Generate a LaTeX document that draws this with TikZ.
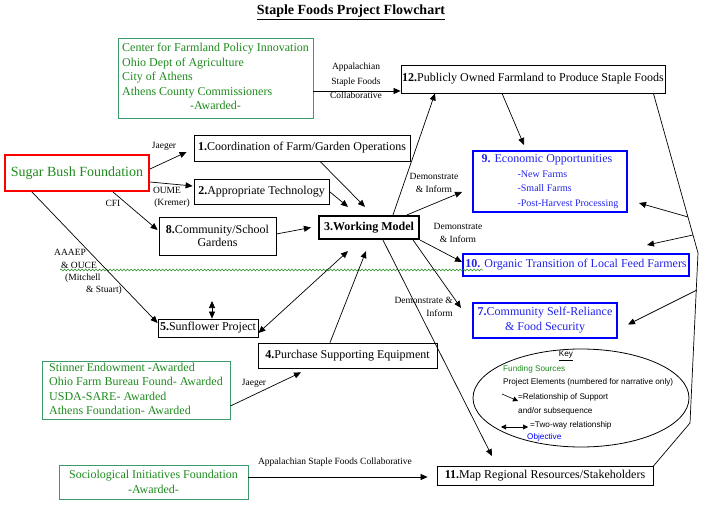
\documentclass[tikz,border=0pt]{standalone}
\usepackage{fontspec}
\setmainfont{Liberation Serif}
\newfontfamily\keyfont{Liberation Sans}
\usetikzlibrary{arrows.meta,shapes.geometric,decorations.pathmorphing}
\definecolor{fgreen}{HTML}{1E8A1E}
\definecolor{bgreen}{HTML}{3A9A68}
\definecolor{oblue}{HTML}{0000FF}
\definecolor{tblue}{HTML}{2222EE}
\newcommand\myfs[2]{\fontsize{#1}{#2}\selectfont}
\begin{document}
\begin{tikzpicture}[x=1pt,y=-1pt,
  arr/.style={line width=0.7pt,-{Triangle[length=7pt,width=6pt]}},
  darr/.style={line width=0.7pt,{Triangle[length=7pt,width=6pt]}-{Triangle[length=7pt,width=6pt]}},
  karr/.style={line width=0.6pt,-{Triangle[length=5pt,width=5pt]}},
  kdarr/.style={line width=0.6pt,{Triangle[length=5pt,width=5pt]}-{Triangle[length=5pt,width=5pt]}},
  box/.style={draw,line width=0.8pt,inner sep=0pt,font=\myfs{12}{14},align=center},
  fund/.style={draw=bgreen,line width=0.8pt,inner sep=0pt,text=fgreen,font=\myfs{12}{14.5}},
  obj/.style={draw=oblue,line width=2pt,inner sep=0pt,text=tblue,font=\myfs{12}{15},align=center},
  lbl/.style={inner sep=0pt,font=\myfs{9.5}{13},align=center},
  ktxt/.style={inner sep=0pt,anchor=west,font=\keyfont\myfs{8.2}{9.5}}]
\useasboundingbox (0,0) rectangle (704,505);

% title
\node[inner sep=0pt,font=\myfs{14}{16}\bfseries] (title) at (351,12) {\underline{Staple Foods Project Flowchart}};

% funding sources
\node[fund,minimum width=195,minimum height=80] (fundA) at (215.5,78)
  {\begin{tabular}{@{}l@{}}Center for Farmland Policy Innovation\\Ohio Dept of Agriculture\\City of Athens\\Athens County Commissioners\\\multicolumn{1}{@{}c@{}}{-Awarded-}\end{tabular}};
\node[draw=red,line width=2pt,inner sep=0pt,text=fgreen,font=\myfs{14}{16},minimum width=144,minimum height=36] (sb) at (77,173) {Sugar Bush Foundation};
\node[fund,minimum width=188,minimum height=58] (fundB) at (136,390)
  {\begin{tabular}{@{}l@{}}Stinner Endowment -Awarded\\Ohio Farm Bureau Found- Awarded\\USDA-SARE- Awarded\\Athens Foundation- Awarded\end{tabular}};
\node[fund,align=center,minimum width=189,minimum height=34] (soc) at (153.5,482)
  {Sociological Initiatives Foundation\\-Awarded-};

% project elements
\node[box,minimum width=264,minimum height=28] (b12) at (533,79) {\textbf{12.}Publicly Owned Farmland to Produce Staple Foods};
\node[box,minimum width=216,minimum height=26] (b1) at (302,148) {\textbf{1.}Coordination of Farm/Garden Operations};
\node[box,minimum width=135,minimum height=25] (b2) at (261.5,191.5) {\textbf{2.}Appropriate Technology};
\node[box,font=\myfs{12}{13.5},minimum width=117,minimum height=38] (b8) at (217.5,236) {\textbf{8.}Community/School\\Gardens};
\node[box,line width=2.2pt,font=\myfs{12}{14}\bfseries,minimum width=100,minimum height=23] (b3) at (369,227.5) {3.Working Model};
\node[box,minimum width=100,minimum height=18] (b5) at (208,328) {\textbf{5.}Sunflower Project};
\node[box,minimum width=179,minimum height=25] (b4) at (347.5,355.5) {\textbf{4.}Purchase Supporting Equipment};
\node[box,minimum width=216,minimum height=19] (b11) at (545,476) {\textbf{11.}Map Regional Resources/Stakeholders};

% objectives
\node[obj,minimum width=154,minimum height=61] (b9) at (550,181.5)
  {\begin{tabular}{@{}l@{}}\textbf{9.} Economic Opportunities\\[0pt]
   {\myfs{10}{13}\hspace*{36pt}-New Farms}\\[-0.5pt]
   {\myfs{10}{13}\hspace*{36pt}-Small Farms}\\[-0.5pt]
   {\myfs{10}{13}\hspace*{36pt}-Post-Harvest Processing}\end{tabular}};
\node[obj,minimum width=226,minimum height=22] (b10) at (576,265) {\textbf{10.} Organic Transition of Local Feed Farmers};
\node[obj,minimum width=144,minimum height=35] (b7) at (545,320.5) {\textbf{7.}Community Self-Reliance\\\& Food Security};

% green wavy underline
\coordinate (w1) at (60,270);
\coordinate (w2) at (483,270);
\draw[fgreen,line width=0.5pt,decorate,decoration={snake,amplitude=1pt,segment length=3.5pt}] (w1) -- (w2);

% connectors from funding sources
\draw[arr] ([yshift=-13pt]fundA.east) -- ([yshift=-12pt]b12.west);
\node[lbl,font=\myfs{9.5}{14.5}] (lapp) at (356,81) {Appalachian\\Staple Foods\\Collaborative};
\draw[arr] ([yshift=4pt]sb.east) -- ([shift={(-7pt,-4pt)}]b1.west);
\node[lbl] (lj1) at (164,146) {Jaeger};
\draw[arr] ([yshift=-9pt]sb.east) -- ([shift={(-1pt,5.5pt)}]b2.west);
\node[lbl] (loume) at (167,190) {OUME};
\node[lbl] (lkremer) at (172,203) {(Kremer)};
\draw[arr] ([xshift=36pt]sb.south) -- ([shift={(-1pt,6pt)}]b8.west);
\node[lbl] (lcfi) at (113,203) {CFI};
\draw[arr] ([xshift=-45pt]sb.south) -- ([yshift=5pt]b5.west);
\node[lbl,font=\myfs{9.5}{12.3},align=left,anchor=north west] (laaaep) at (54,249.5)
  {AAAEP\\\hspace*{7pt}\& OUCE\\\hspace*{11pt}(Mitchell\\\hspace*{32pt}\& Stuart)};
\draw[arr] ([yshift=-16pt]fundB.east) -- ([shift={(-46.5pt,-4pt)}]b4.south);
\node[lbl] (lj2) at (254,383) {Jaeger};
\draw[arr] ([yshift=5pt]soc.east) -- ([shift={(-9pt,-1pt)}]b11.west);
\node[lbl] (lsoc) at (335,462) {Appalachian Staple Foods Collaborative};

% into working model
\draw[arr] ([xshift=18pt]b1.south) -- ([shift={(-4pt,8pt)}]b3.north);
\draw[arr] (b2.east) -- ([shift={(-21pt,8pt)}]b3.north);
\draw[arr] ([yshift=2pt]b8.east) -- ([xshift=-7pt]b3.west);
\draw[arr] ([xshift=-17.5pt]b4.north) -- ([shift={(-3pt,-11pt)}]b3.south);
\draw[darr] ([yshift=-5pt]b5.east) -- ([shift={(-21pt,-11pt)}]b3.south);
\coordinate (dv) at (212,301);
\draw[darr] (dv) -- (dv |- b5.north);

% out of working model
\draw[arr] ([xshift=24pt]b3.north) -- ([xshift=-98pt]b12.south);
\draw[arr] ([xshift=38pt]b3.north) -- ([shift={(-10pt,-10.5pt)}]b9.west);
\node[lbl] (ld9) at (434,183) {Demonstrate\\\& Inform};
\draw[arr] (b3.south east) -- ([yshift=3pt]b10.west);
\node[lbl] (ld10) at (458,233) {Demonstrate\\\& Inform};
\draw[arr] ([xshift=-7pt]b3.south east) -- ([shift={(-11pt,12.5pt)}]b7.west);
\node[lbl,align=right,anchor=east] (ld7) at (453,307) {Demonstrate \&\\Inform};
\draw[arr] ([xshift=14pt]b3.south) -- ([shift={(-53pt,10pt)}]b11.north);
\draw[arr] ([xshift=-31pt]b12.south) -- ([shift={(-26pt,5pt)}]b9.north);

% right-hand feedback line
\coordinate (r1) at (698,253);
\coordinate (r2) at (690,423);
\coordinate (p9) at (688,217);
\coordinate (p10) at (693,235);
\coordinate (p7) at (697,290);
\draw[line width=0.7pt] ([xshift=-12pt]b12.south east) -- (r1) -- (r2) -- (b11.north east);
\draw[arr] (p9) -- ([shift={(11pt,10pt)}]b9.south east);
\draw[arr] (p10) -- ([shift={(-43pt,8pt)}]b10.north east);
\draw[arr] (p7) -- ([shift={(10pt,-4pt)}]b7.east);

% key
\node[draw,ellipse,line width=0.8pt,minimum width=216,minimum height=98,inner sep=0pt] (key) at (581,398) {};
\node[inner sep=0pt,font=\keyfont\myfs{8.2}{9.5}] (kkey) at (566,356) {\underline{Key}};
\node[ktxt,text=fgreen] (kfund) at (503,369) {Funding Sources};
\node[ktxt] (kproj) at (503,382.5) {Project Elements (numbered for narrative only)};
\coordinate (ka1) at (502,394);
\coordinate (ka2) at (518,401);
\draw[karr] (ka1) -- (ka2);
\node[ktxt] (krel) at (518,397) {=Relationship of Support};
\node[ktxt] (ksub) at (518,411) {and/or subsequence};
\coordinate (kd1) at (501,427);
\coordinate (kd2) at (528,427);
\draw[kdarr] (kd1) -- (kd2);
\node[ktxt] (ktwo) at (530,425) {=Two-way relationship};
\node[ktxt,text=oblue] (kobj) at (527,437.5) {Objective};
\end{tikzpicture}
\end{document}
